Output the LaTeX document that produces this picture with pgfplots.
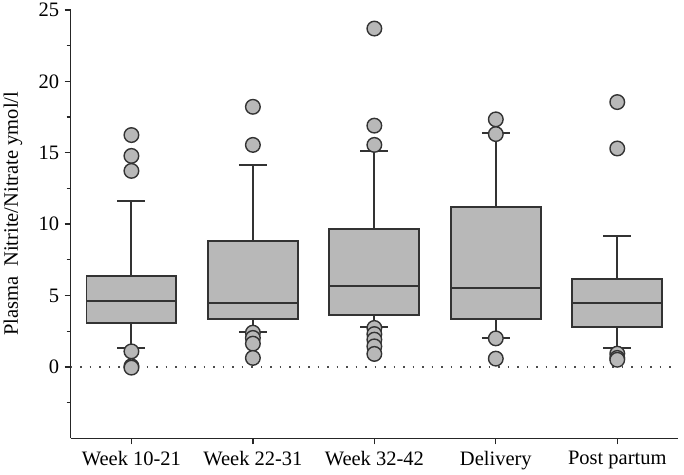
\documentclass[border=0pt]{standalone}
\usepackage{fontspec}
\setmainfont{Liberation Serif}
\usepackage{pgfplots}
\pgfplotsset{compat=1.18}
\usepgfplotslibrary{statistics}
\definecolor{boxfill}{HTML}{B8B8B8}
\definecolor{boxline}{HTML}{333333}
\begin{document}
\begin{tikzpicture}
\useasboundingbox (-70.7bp,-36.7bp) rectangle (613.3bp,438.3bp);
\begin{axis}[
  at={(0,0)}, anchor=south west,
  scale only axis,
  width=607.3bp, height=428.3bp,
  xmin=-0.5, xmax=4.5, ymin=-5, ymax=25,
  axis x line=bottom, axis y line=left,
  axis line style={-, line width=1.3bp, black!85},
  xtick={0,1,2,3,4},
  xticklabels={Week 10-21, Week 22-31, Week 32-42, Delivery, Post partum},
  ytick={0,5,10,15,20,25},
  minor ytick={-2.5,2.5,7.5,12.5,17.5,22.5},
  tick align=outside,
  major tick length=6bp, minor tick length=4bp,
  tick style={line width=1.3bp, black!85},
  /pgf/number format/assume math mode=true,
  tick label style={font=\fontsize{20.5bp}{24bp}\selectfont},
  yticklabel style={xshift=-2bp},
  xticklabel style={yshift=-3bp},
  ylabel={Plasma\ \ Nitrite/Nitrate ymol/l},
  ylabel style={font=\fontsize{20.5bp}{24bp}\selectfont, at={(rel axis cs:0,0.524)}, yshift=57.7bp, anchor=center},
  boxplot/draw direction=y,
  boxplot/every box/.style={draw=boxline, line width=1.9bp, fill=boxfill, solid},
  boxplot/every whisker/.style={draw=boxline, line width=1.9bp, solid},
  boxplot/every median/.style={draw=boxline, line width=1.9bp, solid},
  clip=false,
]
\addplot[dash pattern=on 1.5bp off 8bp, black!70, line width=1.2bp] coordinates {(-0.5,0) (4.45,0)};
\pgfplotsset{
  mybox/.style={boxline, line width=1.9bp, solid,
    mark=*, mark size=7.3bp, mark options={fill=boxfill, draw=boxline, line width=1.4bp}}
}
\addplot[mybox, boxplot prepared={draw position=0, lower whisker=1.33, lower quartile=3.08, median=4.59, upper quartile=6.38, upper whisker=11.65, box extend=0.74, whisker extend=0.23}]
  coordinates {(0,16.24) (0,14.78) (0,13.73) (0,1.09) (0,0.05) (0,-0.05)};
\addplot[mybox, boxplot prepared={draw position=1, lower whisker=2.47, lower quartile=3.36, median=4.48, upper quartile=8.85, upper whisker=14.13, box extend=0.74, whisker extend=0.23}]
  coordinates {(0,18.22) (0,15.55) (0,2.4) (0,2.03) (0,1.63) (0,0.63)};
\addplot[mybox, boxplot prepared={draw position=2, lower whisker=2.8, lower quartile=3.61, median=5.64, upper quartile=9.65, upper whisker=15.15, box extend=0.74, whisker extend=0.23}]
  coordinates {(0,23.7) (0,16.9) (0,15.55) (0,2.73) (0,2.3) (0,1.91) (0,1.44) (0,0.91)};
\addplot[mybox, boxplot prepared={draw position=3, lower whisker=2.0, lower quartile=3.36, median=5.52, upper quartile=11.21, upper whisker=16.4, box extend=0.74, whisker extend=0.23}]
  coordinates {(0,17.34) (0,16.31) (0,2.0) (0,0.58)};
\addplot[mybox, boxplot prepared={draw position=4, lower whisker=1.35, lower quartile=2.77, median=4.48, upper quartile=6.15, upper whisker=9.2, box extend=0.74, whisker extend=0.23}]
  coordinates {(0,18.55) (0,15.3) (0,0.93) (0,0.63) (0,0.5)};
\end{axis}
\end{tikzpicture}
\end{document}
